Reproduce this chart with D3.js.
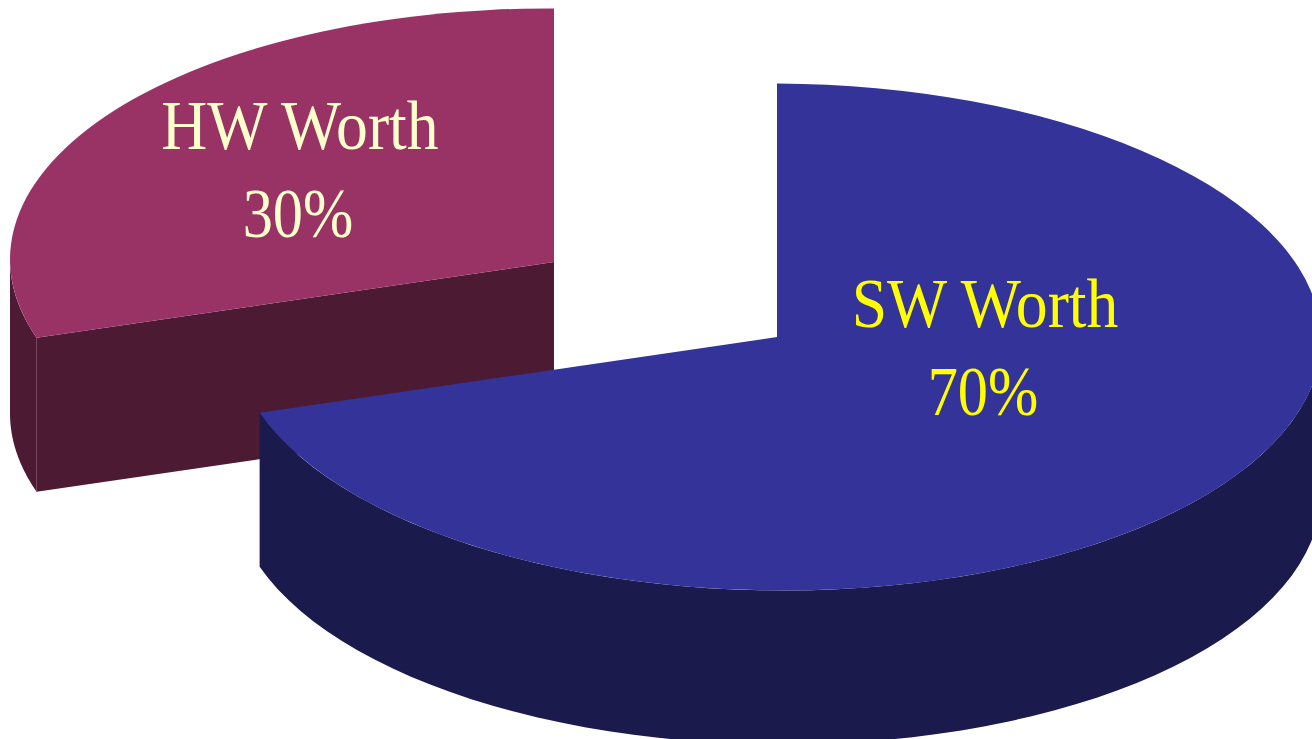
<!DOCTYPE html>
<html>
<head>
<meta charset="utf-8">
<script src="https://cdn.jsdelivr.net/npm/d3@7"></script>
<style>
  html, body { margin: 0; padding: 0; background: #fff; overflow: hidden; }
  text { font-family: "Liberation Serif", serif; font-size: 70px; }
</style>
</head>
<body>
<svg id="chart" width="1312" height="739"></svg>
<script>
var categories = ["HW Worth", "SW Worth"];
var shares = [30, 70];
var shareLabels = ["30%", "70%"];

var topColors = ["#993366", "#333399"];
var sideColors = ["#4d1a33", "#1a1a4d"];
var textColors = ["#ffffcc", "#ffff00"];
var centers = [[554, 262], [777, 337]];
var namePos = [[300, 149], [985, 327]];
var sharePos = [[298, 237], [983, 415]];

// shear: the picture's tilt lifts the left side of the disc a little
var rx = 544, ry = 253.5, shear = 2.7, depth = 154;
var nameSquash = 0.91, shareSquash = 0.862;

var svg = d3.select("#chart");

// clockwise from 12 o'clock, HW ends up on the left of the top
var slices = d3.pie().sort(null).startAngle(-2 * Math.PI * shares[0] / 100)
  .endAngle(2 * Math.PI - 2 * Math.PI * shares[0] / 100)(shares);

var unitArc = d3.arc().innerRadius(0).outerRadius(1);

function px(c, a) { return c[0] + rx * Math.sin(a); }
function py(c, a) { return c[1] - ry * Math.cos(a) + shear * Math.sin(a); }

// outer wall between two angles, as a closed path
function wall(c, a0, a1) {
  var fwd = d3.range(0, 61).map(function(i) {
    var a = a0 + (a1 - a0) * i / 60;
    return [px(c, a), py(c, a)];
  });
  var back = fwd.slice().reverse().map(function(p) { return [p[0], p[1] + depth]; });
  return d3.line()(fwd.concat(back)) + "Z";
}

slices.forEach(function(d, i) {
  var c = centers[i];
  var g = svg.append("g");

  if (i === 0) {
    // only the bit from the cut round to the left edge shows
    g.append("path").attr("d", wall(c, d.startAngle, -Math.PI / 2))
      .attr("fill", sideColors[i]);
    // flat cut face, seen from the front
    g.append("path")
      .attr("d", d3.line()([
        [px(c, d.startAngle), py(c, d.startAngle)],
        c,
        [c[0], c[1] + depth],
        [px(c, d.startAngle), py(c, d.startAngle) + depth]
      ]) + "Z")
      .attr("fill", sideColors[i]);
    g.append("line")
      .attr("x1", px(c, d.startAngle)).attr("y1", py(c, d.startAngle))
      .attr("x2", px(c, d.startAngle)).attr("y2", py(c, d.startAngle) + depth)
      .attr("stroke", "#7a3a5a").attr("stroke-width", 0.6);
  } else {
    g.append("path").attr("d", wall(c, Math.PI / 2, d.endAngle))
      .attr("fill", sideColors[i]);
  }

  g.append("path")
    .attr("transform", "matrix(" + [rx, shear, 0, ry, c[0], c[1]] + ")")
    .attr("d", unitArc(d))
    .attr("fill", topColors[i]);
});

categories.forEach(function(name, i) {
  svg.append("text").attr("text-anchor", "middle").attr("fill", textColors[i])
    .attr("transform", "translate(" + namePos[i] + ") scale(" + nameSquash + ",1)")
    .text(name);
  svg.append("text").attr("text-anchor", "middle").attr("fill", textColors[i])
    .attr("transform", "translate(" + sharePos[i] + ") scale(" + shareSquash + ",1)")
    .text(shareLabels[i]);
});
</script>
</body>
</html>
